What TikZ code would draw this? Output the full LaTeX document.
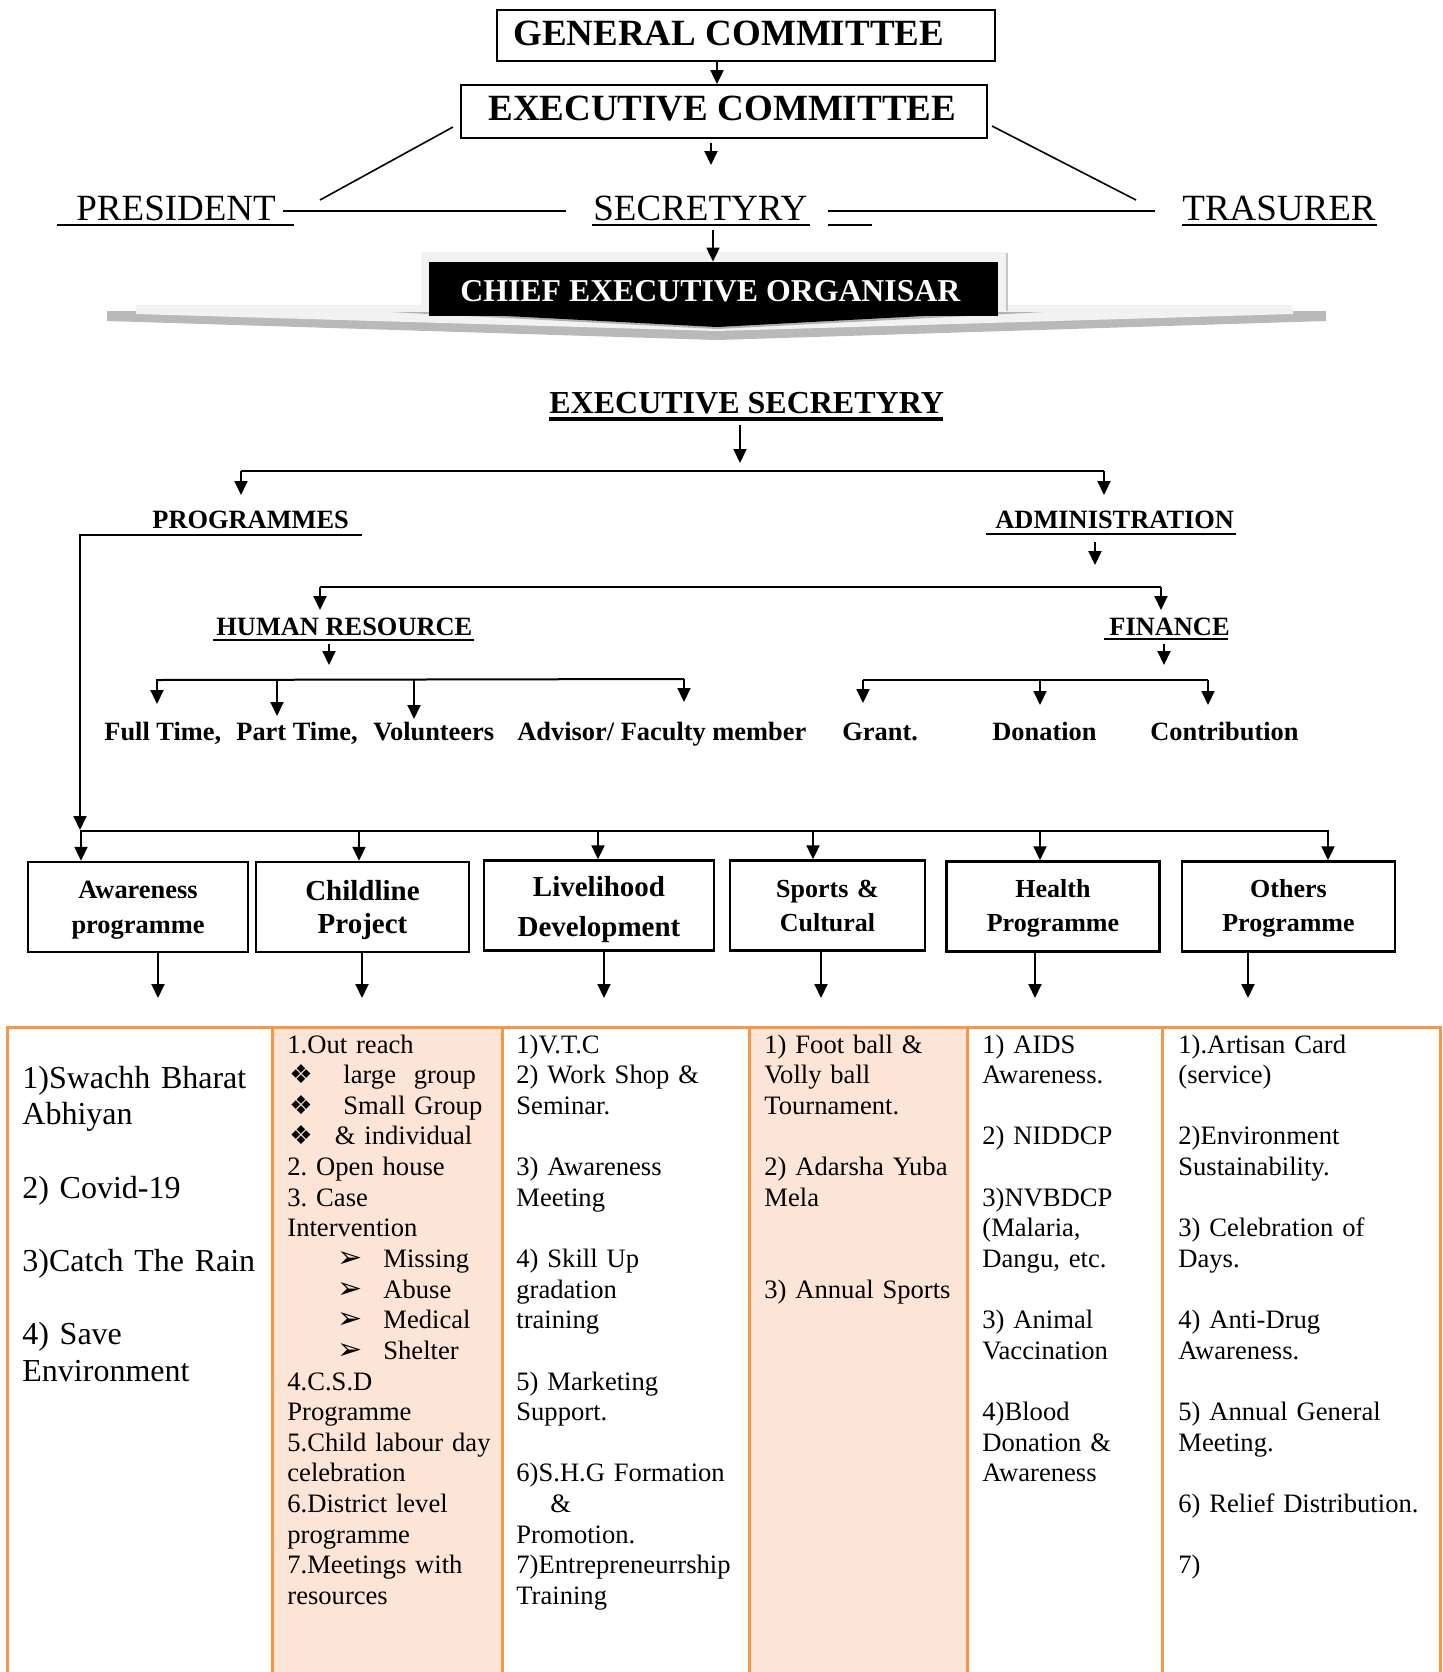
\documentclass[tikz,border=0pt]{standalone}
\usepackage{fontspec}
\setmainfont{Liberation Serif}
\newfontfamily\dvs{DejaVu Sans}
\usetikzlibrary{arrows.meta}
\definecolor{orng}{HTML}{F79646}
\definecolor{peach}{HTML}{FCE4D6}
\frenchspacing
\newcommand\cbul{\hspace*{1pt}\makebox[27pt][l]{{\dvs\fontsize{13}{13}\selectfont ❖}}}
\newcommand\cbulb{\hspace*{1pt}\makebox[22.75pt][l]{{\dvs\fontsize{13}{13}\selectfont ❖}}}
\newcommand\abul{\hspace*{25pt}\makebox[23pt][l]{{\dvs\fontsize{15}{15}\selectfont ➢}}}
\begin{document}
\frenchspacing
\begin{tikzpicture}[x=0.5pt,y=-0.5pt,
  ln/.style={line width=1pt},
  arr/.style={line width=1pt,-{Triangle[length=7pt,width=6.5pt]}},
  tb/.style={inner sep=0pt,anchor=base west},
  big/.style={tb,font=\bfseries\fontsize{18.5}{22}\selectfont},
  reg/.style={tb,font=\fontsize{18.5}{22}\selectfont},
  hdr/.style={tb,font=\bfseries\fontsize{13.2}{16}\selectfont},
  tbox/.style={draw,line width=0.9pt,inner sep=0pt},
  pbox/.style={draw,line width=1.2pt,inner sep=0pt,minimum height=45pt},
  ptxt/.style={anchor=base,inner sep=0pt,text width=105pt,align=center},
  tcol/.style={anchor=base west,inner sep=0pt,text width=130pt,align=left,font=\fontsize{13.3}{15.32}\selectfont\frenchspacing}]
\useasboundingbox (0,0) rectangle (1442,1672);

% ---------- top committees ----------
\node[tbox,minimum width=249pt,minimum height=25.5pt] (gc) at (746,35.5) {};
\node[big] (gct) at (513,45) {GENERAL COMMITTEE};
\node[tbox,minimum width=263pt,minimum height=26.5pt] (ec) at (724,111.5) {};
\node[big] (ect) at (488,120) {EXECUTIVE COMMITTEE};
\draw[arr] (gc.south -| 717,0) -- (ec.north -| 717,0);

\node[reg] (pres) at (76,220) {PRESIDENT};
\node[reg] (sec) at (593,220) {SECRETYRY};
\node[reg] (tre) at (1182,220) {TRASURER};
\coordinate (ecA) at (711,143);
\coordinate (secTop) at (711,165);
\draw[arr] (ecA) -- (secTop);
\draw[line width=0.8pt] (453,127) -- (320,200);
\draw[line width=0.8pt] (992,126) -- (1136,200);
\draw[ln] (283,210.5) -- (566,210.5);
\draw[ln] (828,210.5) -- (1155,210.5);
\draw[ln] (57,225) -- (294,225);
\draw[ln] (592,225) -- (810,225);
\draw[ln] (828,225) -- (872,225);
\draw[ln] (1182,225) -- (1377,225);

% ---------- chief executive ----------
\fill[gray!55] (107,311) -- (1326,311) -- (1326,321) -- (717,340) -- (107,321) -- cycle;
\fill[gray!10] (136,305) -- (1293,305) -- (1293,314) -- (717,331) -- (136,314) -- cycle;
\fill[gray!10] (421,252) rectangle (1008,311);
\draw[gray!45,line width=1pt] (1007,253) -- (1007,311);
\fill[gray!60] (390,312) -- (1045,312) -- (717,329) -- cycle;
\node[fill=black,minimum width=284.5pt,minimum height=27pt,inner sep=0pt] (ceo) at (713.5,289) {};
\fill[black] (429,312) -- (998,312) -- (717,327) -- cycle;
\node[tb,text=white,font=\bfseries\fontsize{15.9}{19}\selectfont] (ceot) at (460,301.5) {CHIEF EXECUTIVE ORGANISAR};
\coordinate (secB) at (713,230);
\draw[arr] (secB) -- (ceo.north -| 713,0);

% ---------- executive secretary ----------
\node[tb,font=\bfseries\fontsize{16}{19}\selectfont] (es) at (549,413) {EXECUTIVE SECRETYRY};
\draw[line width=2pt] (549,419) -- (943,419);
\coordinate (esB) at (740,425);
\coordinate (esT) at (740,463);
\draw[arr] (esB) -- (esT);
\coordinate (j1L) at (241,471);
\coordinate (j1R) at (1104,471);
\draw[ln] (j1L) -- (j1R);
\draw[arr] (j1L) -- (241,495);
\draw[arr] (j1R) -- (1104,495);

\node[hdr] (prog) at (152,528) {PROGRAMMES};
\node[hdr] (adm) at (995,528) {ADMINISTRATION};
\draw[ln] (986,534) -- (1236,534);
\coordinate (admB) at (1095,542);
\draw[arr] (admB) -- (1095,565);
\coordinate (j2L) at (320,587);
\coordinate (j2R) at (1161,587);
\draw[ln] (j2L) -- (j2R);
\draw[arr] (j2L) -- (320,610);
\draw[arr] (j2R) -- (1161,610);

\node[hdr] (hr) at (216,635) {HUMAN RESOURCE};
\draw[ln] (213,640) -- (474,640);
\node[hdr] (fin) at (1109,635) {FINANCE};
\draw[ln] (1104,639) -- (1228,639);
\draw[arr] (329,644) -- (329,665);
\draw[arr] (1164,644) -- (1164,665);

\draw[ln] (156,680) -- (684,679);
\draw[arr] (157,680) -- (157,704);
\draw[arr] (277,681) -- (277,716);
\draw[arr] (414,680) -- (414,719);
\draw[arr] (684,679) -- (684,702);
\draw[ln] (863,680) -- (1208,680);
\draw[arr] (863,680) -- (863,703);
\draw[arr] (1040,681) -- (1040,705);
\draw[arr] (1208,680) -- (1208,705);

\node[hdr] (l1) at (104,740) {Full Time,};
\node[hdr] (l2) at (236,740) {Part Time,};
\node[hdr] (l3) at (373,740) {Volunteers};
\node[hdr] (l4) at (517,740) {Advisor/ Faculty member};
\node[hdr] (l5) at (842,740) {Grant.};
\node[hdr] (l6) at (992,740) {Donation};
\node[hdr] (l7) at (1150,740) {Contribution};

% ---------- programme boxes ----------
\coordinate (pc) at (80,535);
\draw[arr] (362,535) -- (pc) -- (80,830);
\coordinate (bar) at (80,831);
\draw[ln] (bar) -- (1329,831);
\node[pbox,minimum width=110pt] (b1) at (138,907) {};
\node[pbox,minimum width=106.5pt] (b2) at (362.5,907) {};
\node[pbox,minimum width=115pt] (b3) at (599,905.5) {};
\node[pbox,minimum width=97.5pt] (b4) at (827.5,905.5) {};
\node[pbox,minimum width=106.5pt] (b5) at (1053,906.5) {};
\node[pbox,minimum width=106.5pt] (b6) at (1288.5,906.5) {};
\node[ptxt,font=\bfseries\fontsize{13.2}{17.5}\selectfont] (b1t) at (138,898) {Awareness\\programme};
\node[ptxt,font=\bfseries\fontsize{14.5}{16.5}\selectfont] (b2t) at (362.5,900) {Childline\\Project};
\node[ptxt,font=\bfseries\fontsize{14.5}{20}\selectfont] (b3t) at (599,896.5) {Livelihood\\Development};
\node[ptxt,font=\bfseries\fontsize{13}{17}\selectfont] (b4t) at (827.5,897) {Sports \&\\Cultural};
\node[ptxt,font=\bfseries\fontsize{13}{17}\selectfont] (b5t) at (1053,897) {Health\\Programme};
\node[ptxt,font=\bfseries\fontsize{13}{17}\selectfont] (b6t) at (1288.5,897) {Others\\Programme};
\draw[arr] (81,831) -- (b1.north -| 81,0);
\draw[arr] (359,831) -- (b2.north -| 359,0);
\draw[arr] (598,831) -- (b3.north -| 598,0);
\draw[arr] (813,831) -- (b4.north -| 813,0);
\draw[arr] (1040,831) -- (b5.north -| 1040,0);
\draw[arr] (1328,831) -- (b6.north -| 1328,0);
\draw[arr] (b1.south -| 158,0) -- (158,998);
\draw[arr] (b2.south -| 362,0) -- (362,998);
\draw[arr] (b3.south -| 604,0) -- (604,998);
\draw[arr] (b4.south -| 821,0) -- (821,998);
\draw[arr] (b5.south -| 1035,0) -- (1035,998);
\draw[arr] (b6.south -| 1248,0) -- (1248,998);

% ---------- table ----------
\fill[peach] (272,1027) rectangle (502,1690);
\fill[peach] (749,1027) rectangle (967,1690);
\draw[orng,line width=1.5pt] (7,1690) -- (7,1027) -- (1440,1027) -- (1440,1690);
\foreach \xx in {272,502,749,967,1162} \draw[orng,line width=1.5pt] (\xx,1027) -- (\xx,1690);

\node[tcol,font=\fontsize{16}{18.35}\selectfont\frenchspacing] (c1) at (22,1088) {1)Swachh Bharat\\ Abhiyan\\[\baselineskip] 2) Covid-19\\[\baselineskip] 3)Catch The Rain\\[\baselineskip] 4) Save\\ Environment};

\node[tcol] (c2) at (287,1053) {1.Out reach\\ \cbul large\ \ group\\ \cbul Small Group\\ \cbulb\& individual\\ 2. Open house\\ 3. Case\\ Intervention\\ \abul Missing\\ \abul Abuse\\ \abul Medical\\ \abul Shelter\\ 4.C.S.D\\ Programme\\ 5.Child labour day\\ celebration\\ 6.District level\\ programme\\ 7.Meetings with\\ resources};

\node[tcol] (c3) at (516,1053) {1)V.T.C\\ 2) Work Shop \&\\ Seminar.\\[\baselineskip] 3) Awareness\\ Meeting\\[\baselineskip] 4) Skill Up\\ gradation\\ training\\[\baselineskip] 5) Marketing\\ Support.\\[\baselineskip] 6)S.H.G Formation\\ \hspace*{17pt}\&\\ Promotion.\\ 7)Entrepreneurrship\\ Training};

\node[tcol] (c4) at (764,1053) {1) Foot ball \&\\ Volly ball\\ Tournament.\\[\baselineskip] 2) Adarsha Yuba\\ Mela\\[2\baselineskip] 3) Annual Sports};

\node[tcol] (c5) at (982,1053) {1) AIDS\\ Awareness.\\[\baselineskip] 2) NIDDCP\\[\baselineskip] 3)NVBDCP\\ (Malaria,\\ Dangu, etc.\\[\baselineskip] 3) Animal\\ Vaccination\\[\baselineskip] 4)Blood\\ Donation \&\\ Awareness};

\node[tcol] (c6) at (1178,1053) {1).Artisan Card\\ (service)\\[\baselineskip] 2)Environment\\ Sustainability.\\[\baselineskip] 3) Celebration of\\ Days.\\[\baselineskip] 4) Anti-Drug\\ Awareness.\\[\baselineskip] 5) Annual General\\ Meeting.\\[\baselineskip] 6) Relief Distribution.\\[\baselineskip] 7)};
\end{tikzpicture}
\end{document}
